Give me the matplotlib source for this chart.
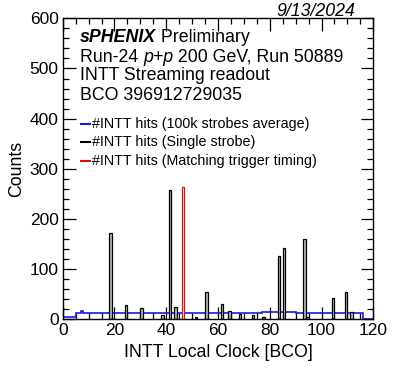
import matplotlib
matplotlib.use("Agg")
import matplotlib.pyplot as plt
from matplotlib.ticker import MultipleLocator

plt.rcParams['font.family'] = ['Liberation Sans', 'DejaVu Sans']

# ---- data ----
single_bins = [18, 24, 30, 38, 41, 43, 51, 55, 61, 64, 68, 73, 77, 83, 85, 93, 94, 104, 109, 111]
single_counts = [173, 29, 23, 8, 258, 25, 4, 55, 30, 17, 11, 9, 4, 127, 143, 160, 4, 43, 54, 15]
trigger_bins = [46]
trigger_counts = [264]
avg_counts = [4, 4, 4, 4, 4, 12, 12, 16, 13, 12,
              12, 12, 12, 12, 12, 12, 12, 12, 12, 12,
              12, 12, 12, 12, 12, 12, 12, 12, 12, 12,
              12, 12, 12, 12, 12, 12, 12, 12, 12, 12,
              12, 12, 12, 12, 12, 12, 12, 12, 12, 12,
              12, 12, 12, 12, 12, 12, 12, 12, 12, 12,
              12, 12, 12, 12, 12, 12, 12, 12, 12, 12,
              12, 12, 12, 12, 12, 12, 13, 14, 14, 14,
              14, 14, 14, 14, 14, 14, 14, 14, 14, 14,
              13, 12, 12, 12, 12, 12, 12, 12, 12, 12,
              12, 12, 12, 12, 12, 12, 12, 12, 12, 12,
              12, 12, 12, 12, 12, 12, 0, 0, 0, 0]
avg_edges = list(range(0, 121))
legend_labels = ["#INTT hits (100k strobes average)",
                 "#INTT hits (Single strobe)",
                 "#INTT hits (Matching trigger timing)"]
legend_colors = ["#1a1adc", "black", "#e01010"]

W, H = 393, 381
fig = plt.figure(figsize=(W / 100, H / 100), dpi=100)
ax = fig.add_axes([62.7 / W, 1 - 319.3 / H, (373.3 - 62.7) / W, (319.3 - 18.3) / H])

ax.bar(single_bins, single_counts, width=1, align='edge', facecolor='#b8b8b8',
       edgecolor='black', linewidth=0.9, zorder=3)
ax.bar(trigger_bins, trigger_counts, width=1, align='edge', facecolor='white',
       edgecolor=legend_colors[2], linewidth=0.9, zorder=4)
ax.stairs(avg_counts, avg_edges, color=legend_colors[0], linewidth=1.2, zorder=2)

ax.set_xlim(0, 120)
ax.set_ylim(0, 600)
ax.xaxis.set_major_locator(MultipleLocator(20))
ax.xaxis.set_minor_locator(MultipleLocator(5))
ax.yaxis.set_major_locator(MultipleLocator(100))
ax.yaxis.set_minor_locator(MultipleLocator(20))
ax.tick_params(which='both', direction='in', top=True, right=True, labelsize=12.5, width=0.9)
ax.tick_params(which='major', length=9, pad=3)
ax.tick_params(which='minor', length=4.5)
for s in ax.spines.values():
    s.set_linewidth(1.0)
    s.set_zorder(6)

ax.set_xlabel("INTT Local Clock [BCO]", fontsize=12.8, labelpad=4)
ax.set_ylabel("Counts", fontsize=12.8, labelpad=3)

def fx(x):
    return x / W

def fy(y):
    return 1 - y / H

fs = 12.8
fig.text(fx(355), fy(11), "9/13/2024", fontsize=fs, style='italic', ha='right', va='center')

t1 = fig.text(fx(80), fy(46), "sPHENIX", fontsize=fs, weight='bold', style='italic', va='bottom')
ax.annotate(" Preliminary", xy=(1, 0), xycoords=t1, fontsize=fs, va='bottom', ha='left',
            annotation_clip=False)

t2 = fig.text(fx(80), fy(65.5), "Run-24 ", fontsize=fs, va='bottom')
t3 = ax.annotate("p+p", xy=(1, 0), xycoords=t2, fontsize=fs, style='italic', va='bottom',
                 annotation_clip=False)
ax.annotate(" 200 GeV, Run 50889", xy=(1, 0), xycoords=t3, fontsize=fs, va='bottom',
            annotation_clip=False)

fig.text(fx(80), fy(84.5), "INTT Streaming readout", fontsize=fs, va='bottom')
fig.text(fx(80), fy(103.5), "BCO 396912729035", fontsize=fs, va='bottom')

leg_y = [124, 142.3, 161]
for yy, lab, col in zip(leg_y, legend_labels, legend_colors):
    fig.add_artist(plt.Line2D([fx(81), fx(90)], [fy(yy), fy(yy)], color=col, linewidth=1.5))
    fig.text(fx(91.5), fy(yy), lab, fontsize=10.3, va='center')

fig.savefig("out.png", dpi=100)
